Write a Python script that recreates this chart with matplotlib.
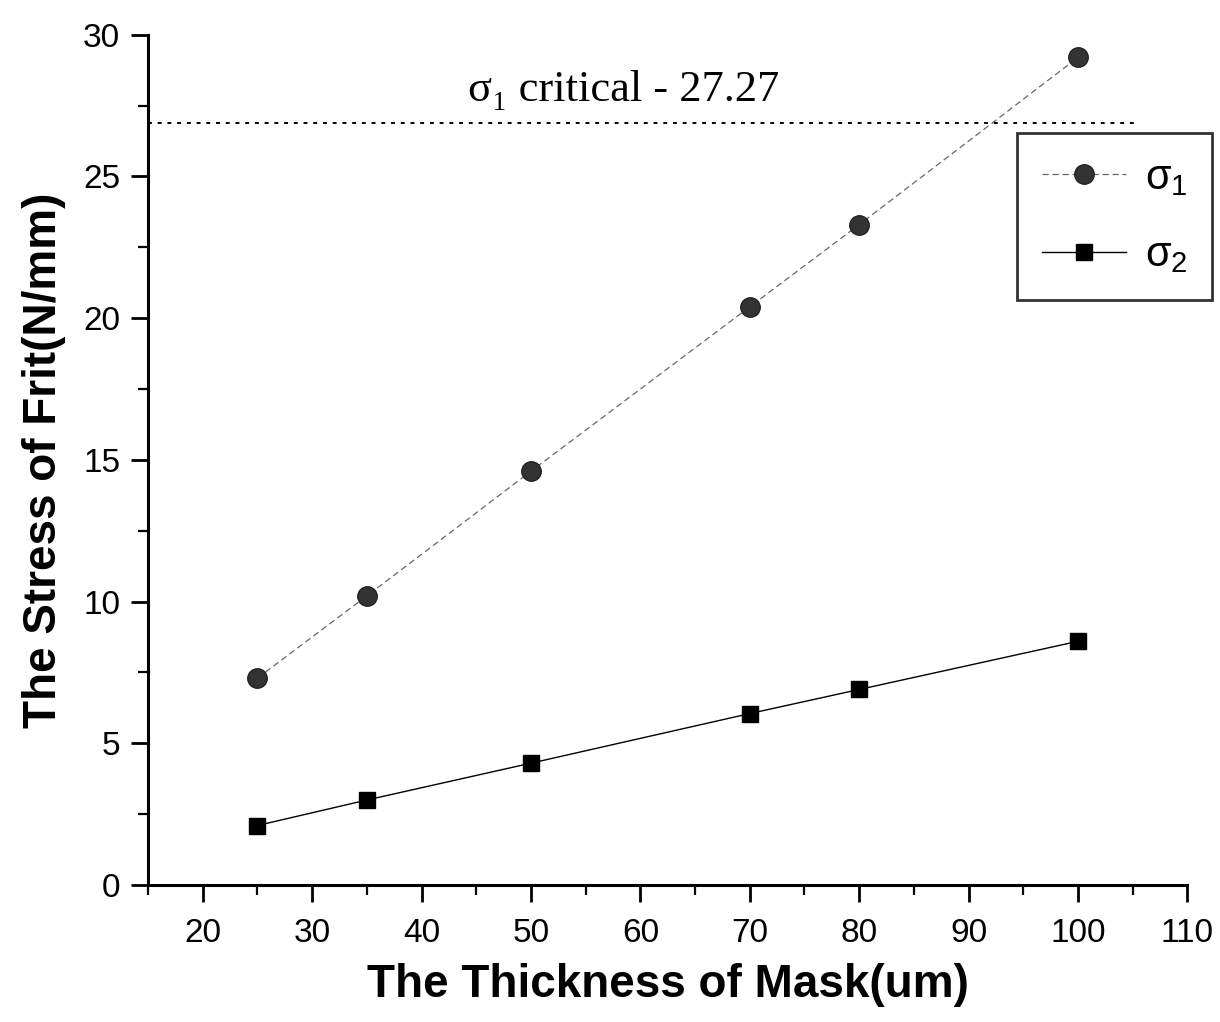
import matplotlib.pyplot as plt
import numpy as np

plt.rcParams['font.family'] = ['Liberation Sans', 'DejaVu Sans']
plt.rcParams['mathtext.fontset'] = 'custom'
plt.rcParams['mathtext.rm'] = 'Liberation Sans'
plt.rcParams['mathtext.it'] = 'Liberation Sans'

# data
thickness = [25, 35, 50, 70, 80, 100]
sigma1 = [7.3, 10.2, 14.6, 20.4, 23.3, 29.2]
sigma2 = [2.1, 3.0, 4.3, 6.05, 6.9, 8.6]
sigma1_critical = 26.9
critical_label = 'σ₁ critical - 27.27'

fig = plt.figure(figsize=(12.2, 10.22), dpi=100)
ax = fig.add_axes([0.1213, 0.134, 0.852, 0.832])

ax.plot(thickness, sigma1, color='#666666', lw=0.9, ls=(0, (5, 3)),
        marker='o', ms=14, mfc='#333333', mec='#222222', label=r'$\sigma_1$')
ax.plot(thickness, sigma2, color='black', lw=1.0,
        marker='s', ms=11.5, mfc='black', mec='black', label=r'$\sigma_2$')

ax.hlines(sigma1_critical, 15, 105.5, colors='black', linestyles=(0, (2, 3)), lw=1.4)
ax.text(58.5, 28.05, critical_label, ha='center', va='center', fontsize=32,
        family=['Liberation Serif', 'DejaVu Serif'])

ax.set_xlim(15, 110)
ax.set_ylim(0, 30)
ax.set_xticks(np.arange(20, 111, 10))
ax.set_xticks(np.arange(15, 111, 5), minor=True)
ax.set_yticks(np.arange(0, 31, 5))
ax.set_yticks(np.arange(0, 31, 2.5), minor=True)
ax.spines['top'].set_visible(False)
ax.spines['right'].set_visible(False)
ax.spines['left'].set_linewidth(2.2)
ax.spines['bottom'].set_linewidth(2.2)
ax.tick_params(which='major', direction='out', length=12, width=2, labelsize=24)
ax.tick_params(axis='x', which='major', pad=12)
ax.tick_params(axis='y', which='major', pad=8)
ax.tick_params(which='minor', direction='out', length=7, width=1.6)

ax.set_xlabel('The Thickness of Mask(um)', fontsize=33, fontweight='bold', labelpad=10)
ax.set_ylabel('The Stress of Frit(N/mm)', fontsize=33, fontweight='bold', labelpad=12)

leg = fig.legend(loc='upper left', bbox_to_anchor=(0.834, 0.870), fontsize=30,
                 frameon=True, fancybox=False, edgecolor='black', handlelength=2.0,
                 handletextpad=0.45, borderpad=0.6, labelspacing=0.9, borderaxespad=0)
leg.get_frame().set_linewidth(2)

fig.savefig('out.png', dpi=100)
